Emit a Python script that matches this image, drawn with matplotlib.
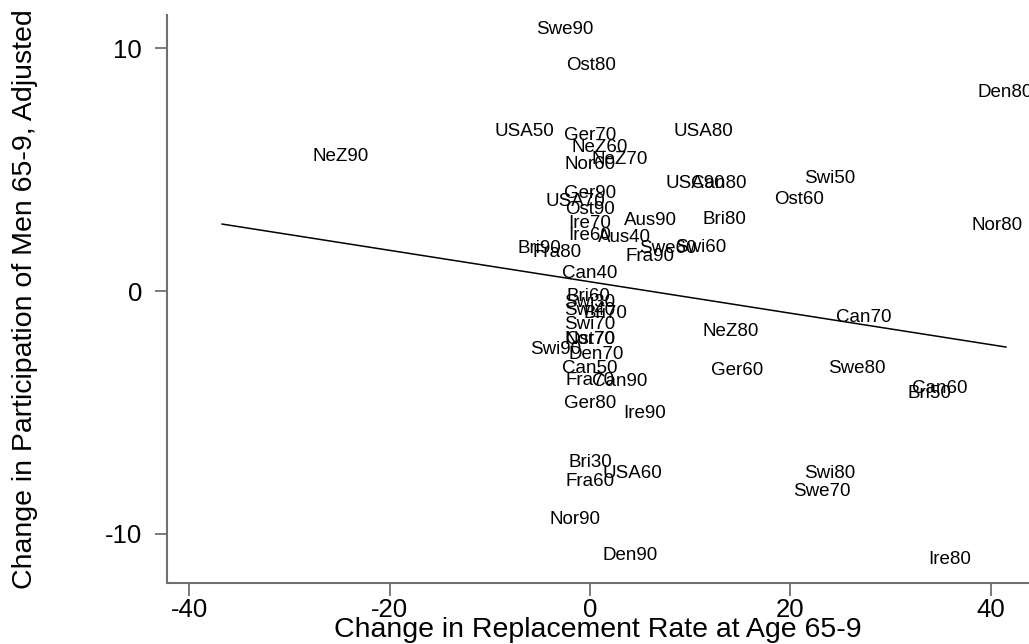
import matplotlib
matplotlib.use("Agg")
import matplotlib.pyplot as plt

plt.rcParams['font.family'] = ['Liberation Sans', 'DejaVu Sans']

labels = ["Swe90", "Ost80", "Den80", "USA50", "Ger70", "USA80", "NeZ60", "NeZ70", "Nor60", "NeZ90",
          "USA90", "Can80", "Swi50", "Ost60", "Ger90", "USA70", "Ost90", "Ire70", "Aus90", "Bri80",
          "Nor80", "Ire60", "Aus40", "Bri90", "Fra80", "Swe60", "Swi60", "Fra90", "Can40", "Bri60",
          "Swi30", "Swi40", "Bri70", "Swi70", "Can70", "NeZ80", "Nor70", "Ost70", "Swi90", "Den70",
          "Can50", "Ger60", "Swe80", "Fra70", "Can90", "Can60", "Bri50", "Ger80", "Ire90", "Bri30",
          "USA60", "Fra60", "Swi80", "Swe70", "Nor90", "Den90", "Ire80"]

repl_change = [-2.5, 0.1, 41.4, -6.5, 0.0, 11.3, 1.0, 3.0, 0.0, -24.9,
               10.5, 12.8, 23.9, 20.9, 0.0, -1.5, 0.0, 0.0, 6.0, 13.4,
               40.6, 0.0, 3.4, -5.0, -3.3, 7.8, 11.0, 6.0, 0.0, -0.2,
               0.0, 0.0, 1.5, 0.0, 27.3, 14.0, 0.0, 0.05, -3.4, 0.6,
               0.0, 14.7, 26.6, 0.0, 3.0, 34.9, 33.9, 0.0, 5.5, 0.0,
               4.2, 0.0, 23.9, 23.1, -1.5, 4.0, 35.9]

part_change = [10.80, 9.30, 8.19, 6.56, 6.43, 6.56, 5.90, 5.44, 5.20, 5.53,
               4.45, 4.45, 4.62, 3.79, 4.04, 3.71, 3.38, 2.80, 2.89, 2.93,
               2.72, 2.27, 2.19, 1.77, 1.57, 1.77, 1.81, 1.44, 0.74, -0.21,
               -0.49, -0.82, -0.91, -1.40, -1.11, -1.69, -1.98, -1.98, -2.43, -2.60,
               -3.18, -3.26, -3.18, -3.71, -3.75, -4.04, -4.21, -4.62, -5.07, -7.09,
               -7.51, -7.84, -7.51, -8.25, -9.44, -10.89, -11.09]

fit_x = [-36.7, 41.5]
fit_y = [2.76, -2.31]

x_ticks = [-40, -20, 0, 20, 40]
y_ticks = [-10, 0, 10]

fig = plt.figure(figsize=(10.29, 6.44), dpi=100)
ax = fig.add_axes([0.1623, 0.0947, 0.8377, 0.882])

for lab, xv, yv in zip(labels, repl_change, part_change):
    ax.text(xv, yv, lab, ha='center', va='center', fontsize=13.5, color='black')

ax.plot(fit_x, fit_y, color='black', linewidth=1.1)

ax.set_xlim(-42.2, 43.8)
ax.set_ylim(-12.04, 11.38)
ax.set_xticks(x_ticks)
ax.set_yticks(y_ticks)
ax.set_xticklabels([str(t) for t in x_ticks])
ax.set_yticklabels([str(t) for t in y_ticks])

for side in ['top', 'right']:
    ax.spines[side].set_visible(False)
for side in ['left', 'bottom']:
    ax.spines[side].set_color('#707070')
    ax.spines[side].set_linewidth(1.5)

ax.tick_params(axis='both', direction='out', length=9, width=1.3, color='#707070',
               labelsize=18.5)
ax.tick_params(axis='x', pad=2)
ax.tick_params(axis='y', pad=9)

ax.set_xlabel("Change in Replacement Rate at Age 65-9", fontsize=20.5, labelpad=-3.5)
ax.set_ylabel("Change in Participation of Men 65-9, Adjusted", fontsize=20.5, labelpad=48)

fig.savefig("out.png", dpi=100)
